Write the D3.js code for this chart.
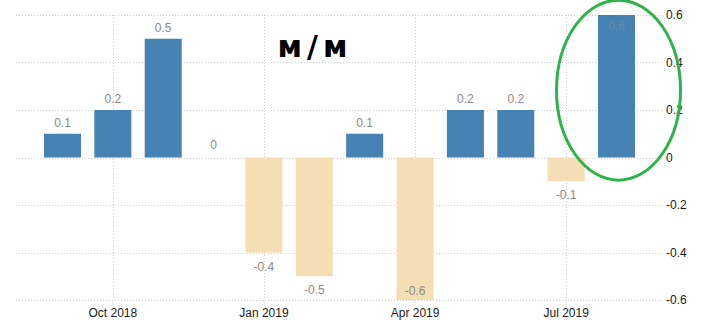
<!DOCTYPE html>
<html>
<head>
<meta charset="utf-8">
<script src="https://cdn.jsdelivr.net/npm/d3@7"></script>
<style>
html,body{margin:0;padding:0;background:#fff;}
svg{display:block;}
</style>
</head>
<body>
<svg id="chart" width="717" height="329"></svg>
<script>
const months = ["2018-09","2018-10","2018-11","2018-12","2019-01","2019-02","2019-03","2019-04","2019-05","2019-06","2019-07","2019-08"];
const values = [0.1,0.2,0.5,0,-0.4,-0.5,0.1,-0.6,0.2,0.2,-0.1,0.6];
const valueLabels = ["0.1","0.2","0.5","0","-0.4","-0.5","0.1","-0.6","0.2","0.2","-0.1","0.6"];
const xTickMonths = ["2018-10","2019-01","2019-04","2019-07"];
const xTickLabels = ["Oct 2018","Jan 2019","Apr 2019","Jul 2019"];
const yTicks = [-0.6,-0.4,-0.2,0,0.2,0.4,0.6];
const yTickLabels = ["-0.6","-0.4","-0.2","0","0.2","0.4","0.6"];
const title = "м/м";

const svg = d3.select("#chart");
const font = "'Liberation Sans', Arial, sans-serif";

const x = d3.scaleBand().domain(months).range([37.3, 641.7]).paddingInner(0.265).paddingOuter(0.1325);
const y = d3.scaleLinear().domain([-0.6, 0.6]).range([300, 15]);

// horizontal grid
svg.append("g").selectAll("line").data(yTicks).join("line")
  .attr("x1", 16).attr("x2", 662)
  .attr("y1", d => Math.round(y(d)) + 0.5).attr("y2", d => Math.round(y(d)) + 0.5)
  .attr("stroke", "#cfcfcf").attr("stroke-dasharray", "1,2").attr("stroke-width", 1);

// vertical grid
svg.append("g").selectAll("line").data(xTickMonths).join("line")
  .attr("x1", d => Math.round(x(d) + x.bandwidth()/2) + 0.5)
  .attr("x2", d => Math.round(x(d) + x.bandwidth()/2) + 0.5)
  .attr("y1", 15).attr("y2", 300)
  .attr("stroke", "#cfcfcf").attr("stroke-dasharray", "1,2").attr("stroke-width", 1);

// bars
const data = months.map((m, i) => ({m, v: values[i], label: valueLabels[i]}));
svg.append("g").selectAll("rect").data(data.filter(d => d.v !== 0)).join("rect")
  .attr("x", d => x(d.m))
  .attr("width", x.bandwidth())
  .attr("y", d => y(Math.max(0, d.v)))
  .attr("height", d => Math.abs(y(d.v) - y(0)))
  .attr("fill", d => d.v > 0 ? "steelblue" : "wheat");

// value labels
svg.append("g").selectAll("text").data(data).join("text")
  .attr("x", d => x(d.m) + x.bandwidth()/2)
  .attr("y", d => {
    if (d.v >= 0.55) return y(d.v) + 15;
    if (d.v <= -0.55) return y(d.v) - 5;
    if (d.v > 0) return y(d.v) - 7;
    if (d.v === 0) return y(0) - 9;
    return y(d.v) + 18;
  })
  .attr("text-anchor", "middle")
  .attr("font-family", font)
  .attr("font-size", 12)
  .attr("fill", d => d.v >= 0.55 ? "#6a8aa8" : "#8a8a8a")
  .text(d => d.label);

// x axis
const xAxis = d3.axisBottom(x)
  .tickValues(xTickMonths)
  .tickFormat(d => xTickLabels[xTickMonths.indexOf(d)])
  .tickSize(5).tickPadding(3);
const gx = svg.append("g").attr("transform", "translate(0,300)").call(xAxis);
gx.select(".domain").remove();
gx.selectAll(".tick line").attr("stroke", "#c8c8c8").attr("stroke-dasharray", "1,1");
gx.selectAll(".tick text").attr("font-family", font).attr("font-size", 12).attr("fill", "#1a1a1a");

// y axis (right)
const yAxis = d3.axisRight(y).tickValues(yTicks)
  .tickFormat(d => yTickLabels[yTicks.indexOf(d)])
  .tickSize(0).tickPadding(4);
const gy = svg.append("g").attr("transform", "translate(662,0)").call(yAxis);
gy.select(".domain").remove();
gy.selectAll(".tick text").attr("font-family", font).attr("font-size", 12).attr("fill", "#1a1a1a");

// title
svg.append("text")
  .attr("x", 315).attr("y", 57)
  .attr("text-anchor", "middle")
  .attr("font-family", "'DejaVu Sans', Verdana, sans-serif")
  .attr("font-weight", "bold")
  .attr("font-size", 30)
  .attr("letter-spacing", 5)
  .attr("fill", "#000")
  .text(title);

// highlight ellipse
const last = months[months.length - 1];
svg.append("ellipse")
  .attr("cx", x(last) + x.bandwidth()/2 + 2)
  .attr("cy", (y(0.6) + y(-0.1)) / 2 - 8)
  .attr("rx", 62).attr("ry", 90)
  .attr("fill", "none")
  .attr("stroke", "#2db34a")
  .attr("stroke-width", 3);
</script>
</body>
</html>
